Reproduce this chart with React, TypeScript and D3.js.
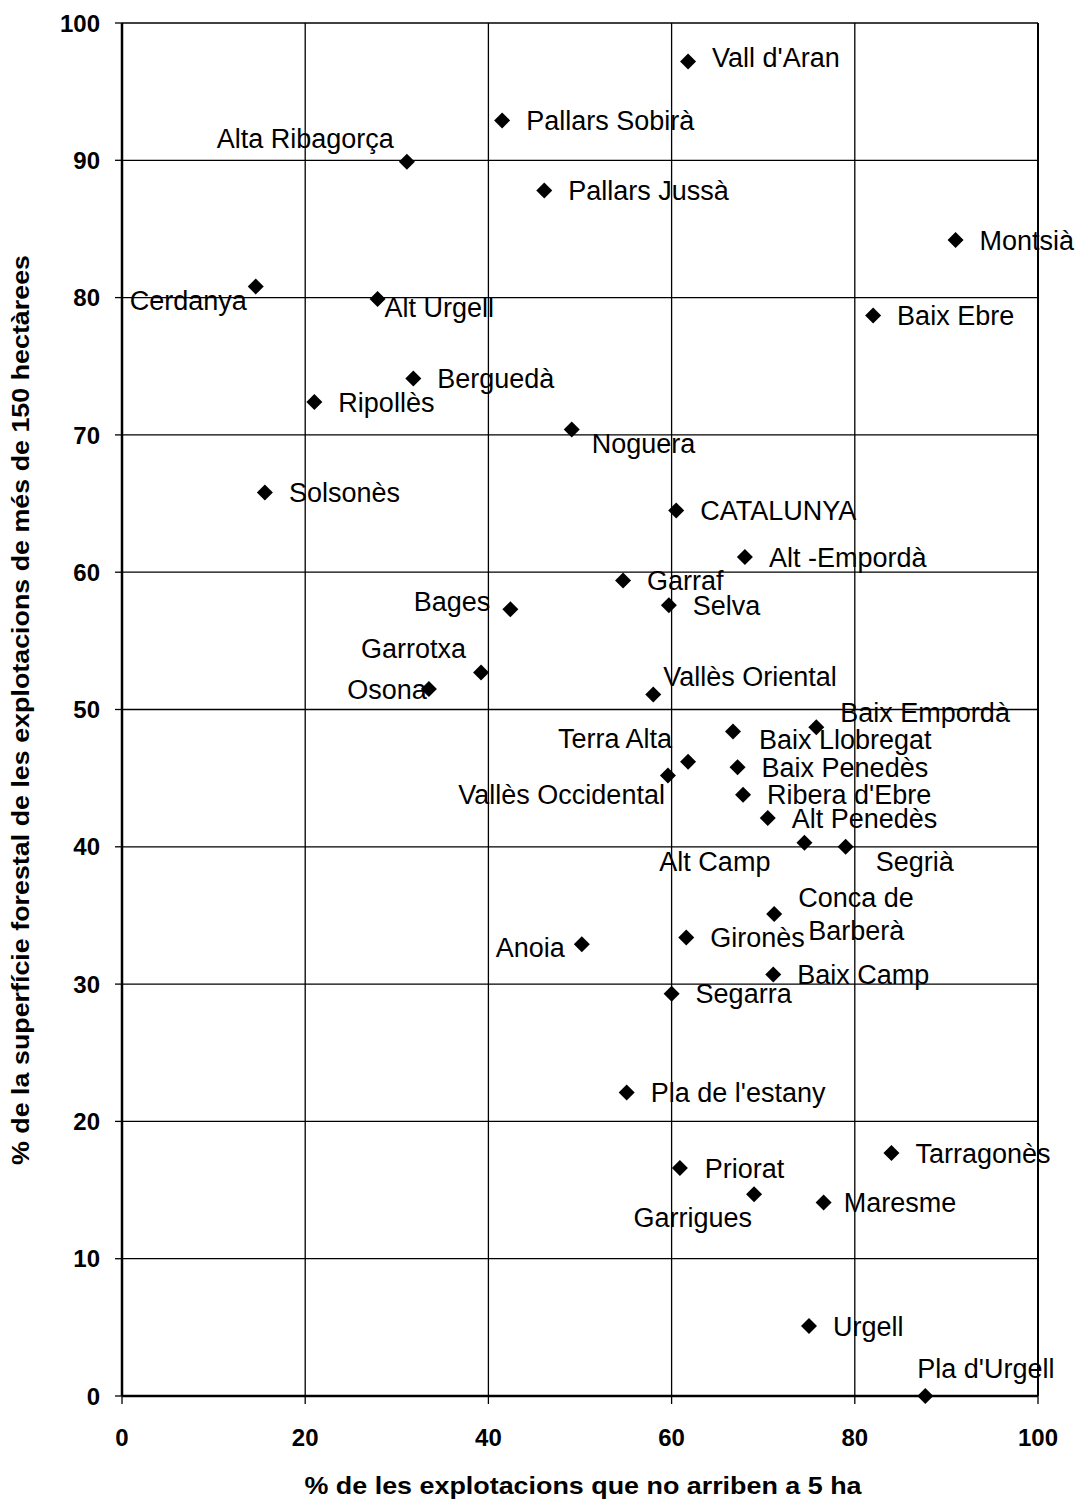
import * as d3 from "d3";

// Comarques de Catalunya: % explotacions < 5 ha vs % superfície forestal en explotacions > 150 ha
const comarques = [
  "Vall d'Aran", "Pallars Sobirà", "Alta Ribagorça", "Pallars Jussà", "Montsià",
  "Cerdanya", "Alt Urgell", "Baix Ebre", "Berguedà", "Ripollès", "Noguera",
  "Solsonès", "CATALUNYA", "Alt -Empordà", "Garraf", "Bages", "Selva",
  "Garrotxa", "Osona", "Vallès Oriental", "Baix Empordà", "Baix Llobregat",
  "Terra Alta", "Baix Penedès", "Vallès Occidental", "Ribera d'Ebre",
  "Alt Penedès", "Alt Camp", "Segrià", "Conca de Barberà", "Gironès", "Anoia",
  "Baix Camp", "Segarra", "Pla de l'estany", "Tarragonès", "Priorat",
  "Garrigues", "Maresme", "Urgell", "Pla d'Urgell",
];

const petites = [
  61.8, 41.5, 31.1, 46.1, 91.0,
  14.6, 27.9, 82.0, 31.8, 21.0, 49.1,
  15.6, 60.5, 68.0, 54.7, 42.4, 59.7,
  39.2, 33.5, 58.0, 75.8, 66.7,
  61.8, 67.2, 59.6, 67.8,
  70.5, 74.5, 79.0, 71.2, 61.6, 50.2,
  71.1, 60.0, 55.1, 84.0, 60.9,
  69.0, 76.6, 75.0, 87.7,
];

const forestal = [
  97.2, 92.9, 89.9, 87.8, 84.2,
  80.8, 79.9, 78.7, 74.1, 72.4, 70.4,
  65.8, 64.5, 61.1, 59.4, 57.3, 57.6,
  52.7, 51.5, 51.1, 48.7, 48.4,
  46.2, 45.8, 45.2, 43.8,
  42.1, 40.3, 40.0, 35.1, 33.4, 32.9,
  30.7, 29.3, 22.1, 17.7, 16.6,
  14.7, 14.1, 5.1, 0.0,
];

const xTicks = [0, 20, 40, 60, 80, 100];
const yTicks = [0, 10, 20, 30, 40, 50, 60, 70, 80, 90, 100];

// label placement: [dx, dy, anchor] relative to the marker
const labelPos: Record<string, [number, number, string]> = {
  "Alta Ribagorça": [-13, -23, "end"],
  "Cerdanya": [-9, 14, "end"],
  "Alt Urgell": [7, 8, "start"],
  "Noguera": [20, 14, "start"],
  "Bages": [-20, -8, "end"],
  "Garrotxa": [-15, -24, "end"],
  "Osona": [-2, 0, "end"],
  "Vallès Oriental": [10, -18, "start"],
  "Baix Empordà": [24, -15, "start"],
  "Baix Llobregat": [26, 8, "start"],
  "Terra Alta": [-16, -23, "end"],
  "Vallès Occidental": [-3, 19, "end"],
  "Alt Camp": [-34, 19, "end"],
  "Segrià": [30, 14, "start"],
  "Anoia": [-17, 3, "end"],
  "Priorat": [25, 0, "start"],
  "Garrigues": [-2, 23, "end"],
  "Maresme": [20, 0, "start"],
  "Pla d'Urgell": [-8, -28, "start"],
  "Vall d'Aran": [24, -4, "start"],
};

const W = 1075;
const H = 1500;
const m = { left: 122, top: 23, right: 1038, bottom: 1396 };
const font = "Arial, 'Liberation Sans', Helvetica, sans-serif";
const labelSize = 27;

export default function App() {
  const x = d3.scaleLinear().domain([0, 100]).range([m.left, m.right]);
  const y = d3.scaleLinear().domain([0, 100]).range([m.bottom, m.top]);
  const diamond = (cx: number, cy: number, r = 8) =>
    `M${cx},${cy - r}L${cx + r},${cy}L${cx},${cy + r}L${cx - r},${cy}Z`;

  return (
    <svg
      width={W}
      height={H}
      style={{ position: "absolute", left: 0, top: 0, background: "#fff" }}
      fontFamily={font}
    >
      <rect width={W} height={H} fill="#fff" />
      {/* grid */}
      {yTicks.slice(1, -1).map((t) => (
        <line key={"gy" + t} x1={m.left} x2={m.right} y1={y(t)} y2={y(t)} stroke="#000" strokeWidth={1.3} />
      ))}
      {xTicks.slice(1, -1).map((t) => (
        <line key={"gx" + t} y1={m.top} y2={m.bottom} x1={x(t)} x2={x(t)} stroke="#000" strokeWidth={1.3} />
      ))}
      {/* frame */}
      <line x1={m.left} x2={m.right} y1={m.top} y2={m.top} stroke="#000" strokeWidth={1.5} />
      <line x1={m.right} x2={m.right} y1={m.top} y2={m.bottom} stroke="#000" strokeWidth={2} />
      <line x1={m.left} x2={m.left} y1={m.top} y2={m.bottom} stroke="#000" strokeWidth={2.5} />
      <line x1={m.left} x2={m.right} y1={m.bottom} y2={m.bottom} stroke="#000" strokeWidth={2.5} />
      {/* ticks */}
      {yTicks.map((t) => (
        <g key={"ty" + t}>
          <line x1={m.left - 7} x2={m.left} y1={y(t)} y2={y(t)} stroke="#000" strokeWidth={1.3} />
          <text x={m.left - 22} y={y(t)} dy="0.36em" textAnchor="end" fontSize={24} fontWeight="bold">
            {t}
          </text>
        </g>
      ))}
      {xTicks.map((t) => (
        <g key={"tx" + t}>
          <line y1={m.bottom} y2={m.bottom + 8} x1={x(t)} x2={x(t)} stroke="#000" strokeWidth={1.3} />
          <text x={x(t)} y={m.bottom + 41} dy="0.36em" textAnchor="middle" fontSize={24} fontWeight="bold">
            {t}
          </text>
        </g>
      ))}
      {/* axis titles */}
      <text x={583} y={1485} dy="0.36em" textAnchor="middle" fontSize={24} fontWeight="bold" textLength={557} lengthAdjust="spacingAndGlyphs">
        % de les explotacions que no arriben a 5 ha
      </text>
      <text
        transform={`translate(20,710) rotate(-90)`}
        dy="0.36em"
        textAnchor="middle"
        fontSize={24}
        fontWeight="bold"
        textLength={910}
        lengthAdjust="spacingAndGlyphs"
      >
        % de la superfície forestal de les explotacions de més de 150 hectàrees
      </text>
      {/* points */}
      {comarques.map((c, i) => {
        const cx = x(petites[i]);
        const cy = y(forestal[i]);
        const [dx, dy, anchor] = labelPos[c] ?? [24, 0, "start"];
        return (
          <g key={c}>
            <path d={diamond(cx, cy)} fill="#000" />
            {c === "Conca de Barberà" ? (
              <text fontSize={labelSize}>
                <tspan x={cx + 24} y={cy - 17} dy="0.36em">Conca de</tspan>
                <tspan x={cx + 34} y={cy + 16} dy="0.36em">Barberà</tspan>
              </text>
            ) : (
              <text x={cx + dx} y={cy + dy} dy="0.36em" textAnchor={anchor} fontSize={labelSize}>
                {c}
              </text>
            )}
          </g>
        );
      })}
    </svg>
  );
}
